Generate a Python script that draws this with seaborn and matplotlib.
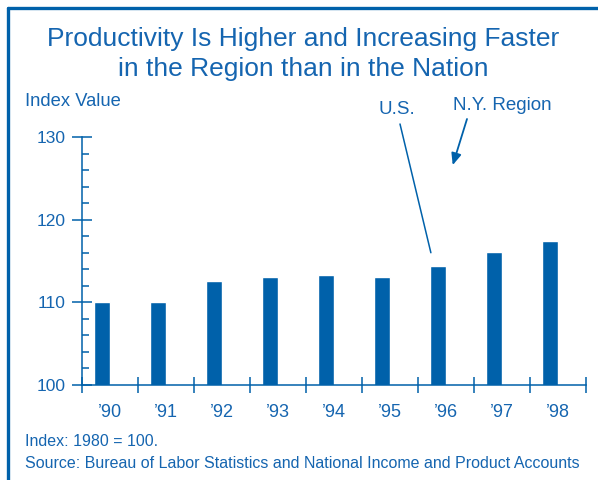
import numpy as np
import pandas as pd
import matplotlib
matplotlib.use('Agg')
import matplotlib.pyplot as plt
from matplotlib.lines import Line2D
from matplotlib.ticker import MultipleLocator, FixedLocator
import seaborn as sns

# data
years = ['\u201990', '\u201991', '\u201992', '\u201993', '\u201994',
         '\u201995', '\u201996', '\u201997', '\u201998']
us_index = [110.0, 110.0, 112.6, 113.1, 113.3, 113.1, 114.4, 116.1, 117.4]
series = ['U.S.', 'N.Y. Region']

blue = '#0061AA'
txt = '#1565B0'

sns.set_style('ticks')
plt.rcParams['font.family'] = ['Liberation Sans', 'DejaVu Sans']

df = pd.DataFrame({'year': years, 'index': us_index, 'series': 'U.S.'})

fig = plt.figure(figsize=(5.98, 4.8), dpi=100)
ax = fig.add_axes([82 / 598, 1 - 385 / 480, 504 / 598, 248 / 480])

# the region bars are not drawn in the original, only their slot is kept
sns.barplot(data=df, x='year', y='index', hue='series', hue_order=series,
            palette=[blue, blue], width=0.572, dodge=True, errorbar=None,
            legend=False, ax=ax, saturation=1)

ax.set_ylim(100, 130)
ax.set_xlim(-0.5, len(years) - 0.5)
ax.set_xlabel('')
ax.set_ylabel('')
for s in ['top', 'right']:
    ax.spines[s].set_visible(False)
for s in ['left', 'bottom']:
    ax.spines[s].set_color(blue)
    ax.spines[s].set_linewidth(1.1)

ax.yaxis.set_major_locator(MultipleLocator(10))
ax.yaxis.set_minor_locator(MultipleLocator(2))
ax.tick_params(axis='y', which='major', left=True, direction='inout', length=14,
               width=1.1, color=blue, labelcolor=txt, labelsize=12.5, pad=5)
ax.tick_params(axis='y', which='minor', left=True, direction='in', length=5,
               width=1.1, color=blue)
ax.xaxis.set_minor_locator(FixedLocator(np.arange(-0.5, len(years), 1.0)))
ax.tick_params(axis='x', which='minor', bottom=True, direction='inout', length=12,
               width=1.1, color=blue)
ax.tick_params(axis='x', which='major', length=0, labelcolor=txt,
               labelsize=13, pad=14)

# title and texts
fig.text(303 / 598, 1 - 39 / 480, 'Productivity Is Higher and Increasing Faster',
         ha='center', va='center', color=txt, fontsize=19)
fig.text(303 / 598, 1 - 69 / 480, 'in the Region than in the Nation',
         ha='center', va='center', color=txt, fontsize=19)
fig.text(25 / 598, 1 - 101 / 480, 'Index Value', ha='left', va='center',
         color=txt, fontsize=13.2)
fig.text(397 / 598, 1 - 110 / 480, 'U.S.', ha='center', va='center',
         color=txt, fontsize=13.5)
fig.text(502 / 598, 1 - 105 / 480, 'N.Y. Region', ha='center', va='center',
         color=txt, fontsize=13.5)
fig.text(25 / 598, 1 - 441 / 480, 'Index: 1980 = 100.', ha='left', va='center',
         color=txt, fontsize=11.5)
fig.text(25 / 598, 1 - 463 / 480,
         'Source: Bureau of Labor Statistics and National Income and Product Accounts',
         ha='left', va='center', color=txt, fontsize=11.5)

# pointer lines
ax.annotate('', xy=(5.73, 116.0), xycoords='data',
            xytext=(400 / 598, 1 - 124 / 480), textcoords='figure fraction',
            arrowprops=dict(arrowstyle='-', color=blue, lw=1.1,
                            shrinkA=0, shrinkB=0))
ax.annotate('', xy=(6.12, 126.6), xycoords='data',
            xytext=(467 / 598, 1 - 119 / 480), textcoords='figure fraction',
            annotation_clip=False,
            arrowprops=dict(arrowstyle='-|>,head_length=0.7,head_width=0.3',
                            color=blue, lw=1.3, shrinkA=0, shrinkB=0))

# frame on top and left
fig.add_artist(Line2D([8 / 598, 1], [1 - 8 / 480, 1 - 8 / 480], color=blue, lw=2.4))
fig.add_artist(Line2D([8 / 598, 8 / 598], [0, 1 - 8 / 480], color=blue, lw=2.4))

fig.savefig('out.png', dpi=100)
